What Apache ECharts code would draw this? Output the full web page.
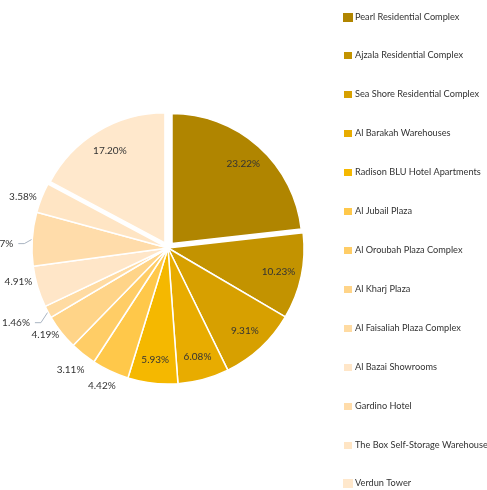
<!DOCTYPE html>
<html>
  <head>
    <meta charset="utf-8" />
    <title>Pie</title>
    <script src="https://cdn.jsdelivr.net/npm/echarts@6/dist/echarts.min.js"></script>
  </head>
  <body style="margin:0;padding:0;">
    <div id="chart" style="width:487px;height:490px;"></div>
    <script type="text/javascript">
      var names = ['Pearl Residential Complex', 'Ajzala Residential Complex', 'Sea Shore Residential Complex',
        'Al Barakah Warehouses', 'Radison BLU Hotel Apartments', 'Al Jubail Plaza', 'Al Oroubah Plaza Complex',
        'Al Kharj Plaza', 'Al Faisaliah Plaza Complex', 'Al Bazai Showrooms', 'Gardino Hotel',
        'The Box Self-Storage Warehouse', 'Verdun Tower'];
      var values = [23.22, 10.23, 9.31, 6.08, 5.93, 4.42, 3.11, 4.19, 1.46, 4.91, 6.37, 3.58, 17.20];
      var colors = ['#b08500', '#c39300', '#d7a000', '#e8ac00', '#f5b800', '#ffc84a', '#ffcd66',
        '#ffd488', '#ffdba2', '#ffe6c8', '#ffdcaa', '#ffe5c4', '#ffe8cc'];
      // label placement per slice: in = inside, out = just outside, line = outside with leader line
      var labelPos = ['in', 'in', 'in', 'in', 'in', 'out', 'out', 'out', 'line', 'out', 'line', 'out', 'in'];
      var exploded = [true, false, false, false, false, false, false, false, false, false, false, false, true];

      var fmt = function (p) { return p.value.toFixed(2) + '%'; };
      var font = 'Lato, "Noto Sans", sans-serif';
      var clear = 'rgba(0,0,0,0)';
      var center = [168, 248];
      // small nudges for the crowded outside labels (by data index)
      var nudge = { 5: -3, 7: -10, 8: 7, 9: -11, 10: 5, 11: 6 };
      var nudgeLayout = function (p) {
        var dy = nudge[p.dataIndex];
        if (dy == null) return;
        var out = { dy: dy };
        // bend the leader line along with the label
        if (p.labelLinePoints) {
          out.labelLinePoints = p.labelLinePoints.map(function (pt, k) {
            return k == 0 ? [pt[0], pt[1]] : [pt[0], pt[1] + dy];
          });
        }
        return out;
      };

      var mainData = [], explodeData = [], ringIn = [], ringOut = [], legendData = [];
      for (var i = 0; i < names.length; i++) {
        var ex = exploded[i];
        mainData.push({
          name: names[i], value: values[i],
          itemStyle: ex ? { color: clear, borderWidth: 0 } : { color: colors[i] },
          label: { show: labelPos[i] == 'line' },
          labelLine: { show: labelPos[i] == 'line' }
        });
        explodeData.push({
          name: names[i], value: values[i], selected: ex,
          itemStyle: ex ? { color: colors[i] } : { color: clear, borderWidth: 0 }
        });
        ringIn.push({ name: names[i], value: values[i], label: { show: labelPos[i] == 'in' } });
        ringOut.push({ name: names[i], value: values[i], label: { show: labelPos[i] == 'out' } });
        legendData.push({ name: names[i], itemStyle: { color: colors[i] } });
      }

      var labelStyle = { formatter: fmt, fontFamily: font, fontSize: 10, color: '#333' };

      var myChart = echarts.init(document.getElementById('chart'), null, { renderer: 'canvas' });
      myChart.setOption({
        animation: false,
        legend: {
          orient: 'vertical',
          left: 337,
          top: 8,
          height: 520,
          icon: 'rect',
          itemWidth: 10,
          itemHeight: 9,
          itemGap: 28,
          textStyle: { fontFamily: font, fontSize: 9.2, color: '#333', padding: [0, 0, 0, -3] },
          data: legendData
        },
        series: [
          {
            type: 'pie',
            center: center,
            radius: [0, 136],
            startAngle: 90,
            avoidLabelOverlap: false,
            itemStyle: { borderColor: '#fff', borderWidth: 1.5 },
            label: Object.assign({ position: 'outside', width: 40 }, labelStyle),
            labelLine: { length: 8, length2: 6, lineStyle: { color: '#a9b4c2', width: 1 } },
            labelLayout: nudgeLayout,
            emphasis: { disabled: true },
            data: mainData
          },
          {
            type: 'pie',
            center: center,
            radius: [0, 130],
            startAngle: 90,
            selectedMode: 'multiple',
            selectedOffset: 6,
            itemStyle: { borderColor: '#fff', borderWidth: 1.5 },
            label: { show: false },
            labelLine: { show: false },
            emphasis: { disabled: true },
            data: explodeData
          },
          {
            type: 'pie',
            center: center,
            radius: [88, 132],
            startAngle: 90,
            silent: true,
            itemStyle: { color: clear },
            label: Object.assign({ position: 'inside' }, labelStyle),
            labelLine: { show: false },
            emphasis: { disabled: true },
            data: ringIn
          },
          {
            type: 'pie',
            center: center,
            radius: [140, 166],
            startAngle: 90,
            silent: true,
            itemStyle: { color: clear },
            label: Object.assign({ position: 'inside' }, labelStyle),
            labelLine: { show: false },
            labelLayout: nudgeLayout,
            emphasis: { disabled: true },
            data: ringOut
          }
        ]
      });
    </script>
  </body>
</html>
